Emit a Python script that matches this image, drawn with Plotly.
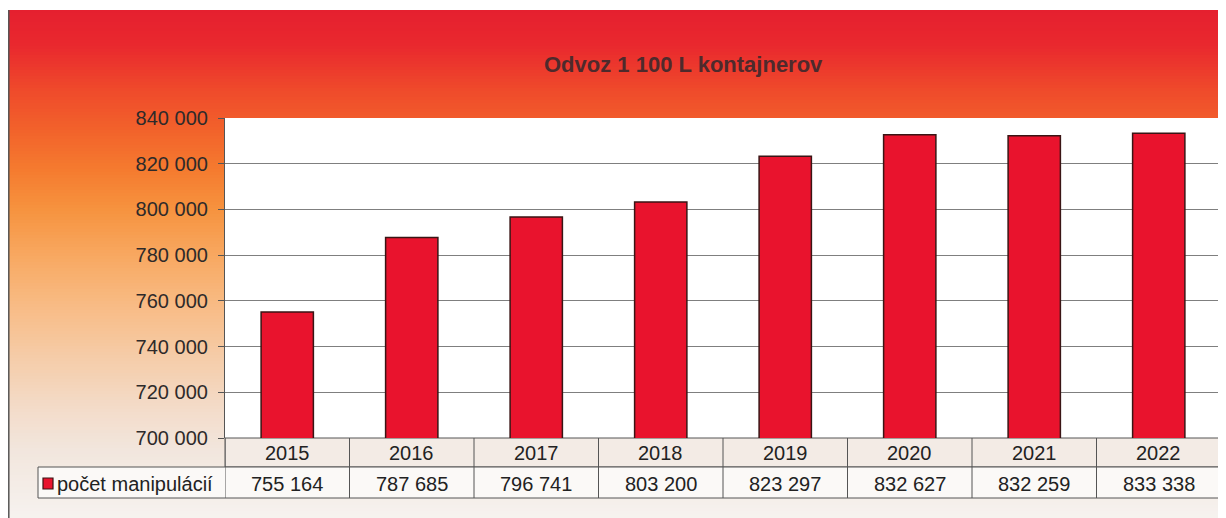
import plotly.graph_objects as go

# ---- data ----
years = ["2015", "2016", "2017", "2018", "2019", "2020", "2021", "2022"]
values = [755164, 787685, 796741, 803200, 823297, 832627, 832259, 833338]
series_name = "počet manipulácií"
title_text = "Odvoz 1 100 L kontajnerov"
y_min, y_max, y_step = 700000, 840000, 20000

# page is shown with an 8px body margin; the figure fills the rest
OFF = 8
FW, FH = 1226 - OFF, 518 - OFF
FONT = "Liberation Sans, Arial, sans-serif"


def py(p):
    return 1 - (p - OFF) / FH


def px_x(p):
    return (p - OFF) / FW


PLOT_L, PLOT_R, PLOT_T, PLOT_B = 225, 1221, 118, 438
ROW1_B, ROW2_B = 467, 498
TABLE_L = 38

fig = go.Figure()

fig.add_trace(go.Bar(
    x=years, y=values, name=series_name, width=0.42,
    marker=dict(color="#e9132d", line=dict(color="#3a1515", width=1.5)),
    showlegend=False, hoverinfo="x+y",
))

shapes = []

# background gradient strips (vertical gradient)
stops = [(10, "#e5202f"), (45, "#e9282e"), (90, "#ef4a2b"), (130, "#f2622b"),
         (170, "#f57b2f"), (210, "#f6933f"), (260, "#f8aa64"), (310, "#f8bd88"),
         (360, "#f5cdaa"), (410, "#f3dcca"), (450, "#f2e6dd"), (518, "#f6f2ef")]


def hex2rgb(h):
    h = h.lstrip("#")
    return tuple(int(h[i:i + 2], 16) for i in (0, 2, 4))


def color_at(yp):
    for (y0, c0), (y1, c1) in zip(stops[:-1], stops[1:]):
        if y0 <= yp <= y1:
            t = (yp - y0) / (y1 - y0)
            a, b = hex2rgb(c0), hex2rgb(c1)
            return "rgb(%d,%d,%d)" % tuple(round(a[i] + (b[i] - a[i]) * t) for i in range(3))
    return stops[-1][1]


step = 3
yp = 10
while yp < 518:
    y2 = min(yp + step, 518)
    shapes.append(dict(type="rect", xref="paper", yref="paper", layer="below",
                       x0=0, x1=1.0, y0=py(y2 + 0.6), y1=py(yp),
                       fillcolor=color_at(yp + step / 2), line=dict(width=0)))
    yp = y2

# frame left line
shapes.append(dict(type="line", xref="paper", yref="paper", layer="below",
                   x0=px_x(8.8), x1=px_x(8.8), y0=0, y1=py(10),
                   line=dict(color="#555555", width=1.5)))

# white plot area
shapes.append(dict(type="rect", xref="paper", yref="paper", layer="below",
                   x0=px_x(PLOT_L), x1=px_x(PLOT_R), y0=py(PLOT_B), y1=py(PLOT_T),
                   fillcolor="#ffffff", line=dict(width=0)))

# data table backgrounds
shapes.append(dict(type="rect", xref="paper", yref="paper", layer="below",
                   x0=px_x(PLOT_L), x1=px_x(PLOT_R), y0=py(ROW1_B), y1=py(PLOT_B),
                   fillcolor="#f3ebe5", line=dict(color="#555555", width=1)))
shapes.append(dict(type="rect", xref="paper", yref="paper", layer="below",
                   x0=px_x(TABLE_L), x1=px_x(PLOT_R), y0=py(ROW2_B), y1=py(ROW1_B),
                   fillcolor="#fbf9f7", line=dict(color="#555555", width=1)))
# column dividers through the category axis
for k in range(len(years) + 1):
    shapes.append(dict(type="line", xref="x", yref="paper", layer="above",
                       x0=k - 0.5, x1=k - 0.5, y0=py(ROW2_B), y1=py(PLOT_B),
                       line=dict(color="#555555", width=1)))

# legend key
shapes.append(dict(type="rect", xref="paper", yref="paper", layer="above",
                   x0=px_x(43), x1=px_x(53), y0=py(489), y1=py(478),
                   fillcolor="#e9132d", line=dict(color="#3a1515", width=1.2)))

annotations = [
    dict(text="<b>" + title_text + "</b>", xref="paper", yref="paper",
         x=px_x(683), y=py(64), showarrow=False, yanchor="middle",
         font=dict(family=FONT, size=22, color="#4e2a2c")),
    dict(text=series_name, xref="paper", yref="paper", x=px_x(55), y=py(484),
         xanchor="left", yanchor="middle", showarrow=False,
         font=dict(family=FONT, size=20, color="#222222")),
]
for i, (yr, v) in enumerate(zip(years, values)):
    annotations.append(dict(text=yr, xref="x", yref="paper", x=i, y=py(452.5),
                            showarrow=False, yanchor="middle",
                            font=dict(family=FONT, size=20, color="#222222")))
    annotations.append(dict(text=f"{v:,}".replace(",", " "), xref="x", yref="paper",
                            x=i, y=py(483.5), showarrow=False, yanchor="middle",
                            font=dict(family=FONT, size=20, color="#222222")))

fig.update_layout(
    width=FW, height=FH,
    margin=dict(l=0, r=0, t=0, b=0, autoexpand=False),
    paper_bgcolor="#ffffff", plot_bgcolor="rgba(0,0,0,0)",
    separators=", ",
    font=dict(family=FONT, size=20, color="#222222"),
    shapes=shapes, annotations=annotations,
    xaxis=dict(domain=[px_x(PLOT_L), min(1.0, px_x(PLOT_R))], type="category",
               categoryorder="array", categoryarray=years,
               range=[-0.5, len(years) - 0.5], showticklabels=False,
               showgrid=False, showline=False, zeroline=False, ticks=""),
    yaxis=dict(domain=[py(PLOT_B), py(PLOT_T)], range=[y_min, y_max], dtick=y_step,
               tick0=y_min, tickformat=",d", showgrid=True, gridcolor="#7f7f7f",
               gridwidth=1, showline=True, linecolor="#555555", linewidth=1.2,
               ticks="outside", ticklen=6, tickcolor="#555555", zeroline=False,
               ticklabelstandoff=6,
               tickfont=dict(family=FONT, size=20, color="#2e2a2a"), automargin=False),
)

fig.write_html("out.html")
